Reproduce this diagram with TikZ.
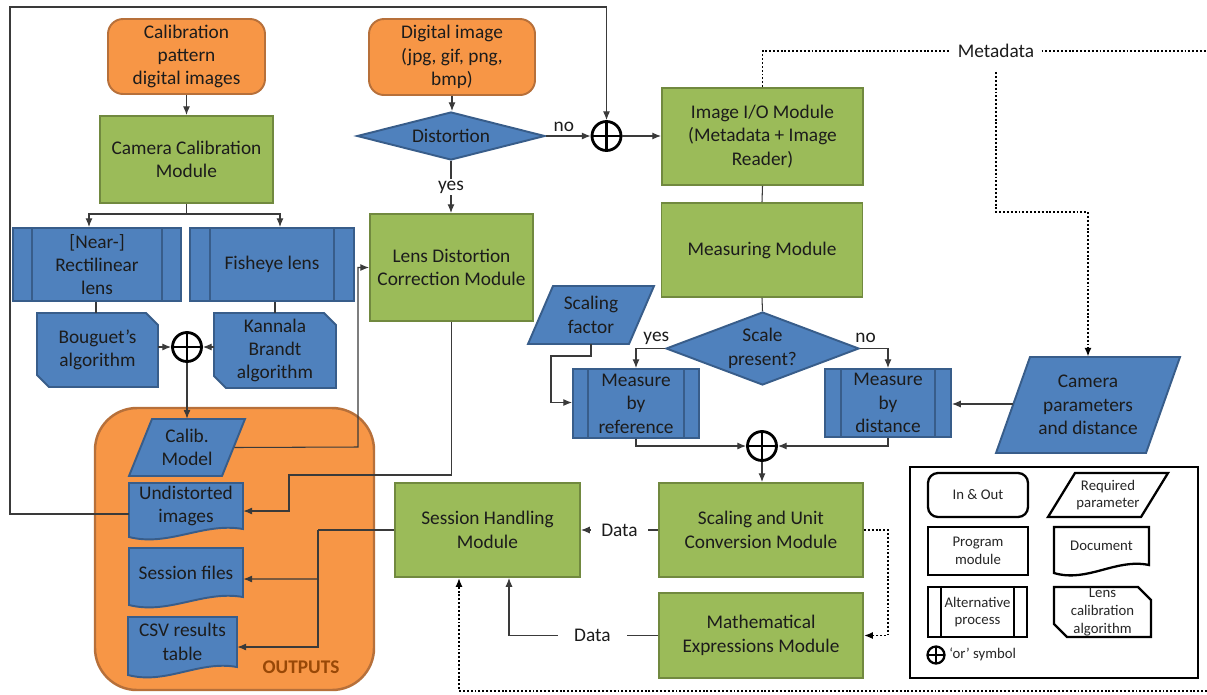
\documentclass[tikz,border=0pt]{standalone}
\usepackage{fontspec}
\setmainfont{Carlito}
\usetikzlibrary{shapes.geometric,arrows.meta,calc}
\definecolor{orf}{HTML}{F79646}
\definecolor{ord}{HTML}{B7703A}
\definecolor{grf}{HTML}{9BBB59}
\definecolor{grd}{HTML}{71893F}
\definecolor{blf}{HTML}{4F81BD}
\definecolor{bld}{HTML}{385D8A}
\definecolor{txt}{HTML}{1C1C1C}
\definecolor{outc}{HTML}{984807}
\definecolor{lnc}{HTML}{3A3A3A}
\newcommand\mainfont{\fontsize{11}{13.3}\selectfont}
\newcommand\legfont{\fontsize{8.4}{10}\selectfont}
\tikzset{
  every node/.style={text=txt, font=\mainfont, align=center, inner sep=0pt},
  sz/.style 2 args={minimum width={#1*0.02cm}, minimum height={#2*0.02cm}},
  base/.style={line width=1.1pt},
  inout/.style={base, rectangle, rounded corners=0.3cm, fill=orf, draw=ord},
  module/.style={base, rectangle, fill=grf, draw=grd},
  bshape/.style={base, fill=blf, draw=bld},
  bline/.style={base, draw=bld},
  altbox/.style={bshape, rectangle},
  dia/.style={bshape, diamond},
  orbig/.style={circle, draw=black, fill=white, inner sep=0pt, line width=1.6pt, minimum size={29*0.02cm},
    path picture={\draw[line width=1.6pt] (path picture bounding box.north) -- (path picture bounding box.south)
      (path picture bounding box.west) -- (path picture bounding box.east);}},
  orsmall/.style={circle, draw=black, fill=white, inner sep=0pt, line width=1.3pt, minimum size={17*0.02cm},
    path picture={\draw[line width=1.3pt] (path picture bounding box.north) -- (path picture bounding box.south)
      (path picture bounding box.west) -- (path picture bounding box.east);}},
  ln/.style={draw=lnc, line width=0.6pt},
  arr/.style={ln, -{Latex[length=5pt,width=4pt]}},
  dotl/.style={draw=black, line width=1.1pt, dash pattern=on 1.1pt off 1.1pt},
  dotarr/.style={dotl, -{Latex[length=5pt,width=4pt]}},
  lbl/.style={fill=white, inner xsep=4pt, inner ysep=1pt},
  lg/.style={line width=1.3pt, draw=black, fill=white},
  lgtext/.style={font=\legfont, text=black!85},
}
% parallelogram: style, node opts, name, cx, cy, w, h, slant, text
\newcommand\pgnode[9]{%
  \draw[#1] ({#4-#6/2+#8},{#5-#7/2}) -- ({#4+#6/2},{#5-#7/2}) -- ({#4+#6/2-#8},{#5+#7/2}) -- ({#4-#6/2},{#5+#7/2}) -- cycle;
  \node[#2, minimum width={#6*0.02cm}, minimum height={#7*0.02cm}] (#3) at (#4,#5) {#9};}
% document: style, node opts, name, x1, y1, x2, y2(right bottom), text
\newcommand\docnode[8]{%
  \draw[#1] (#4,#5) -- (#6,#5) -- (#6,#7) .. controls ({#6-(#6-#4)*0.35},{#7-7}) and ({#4+(#6-#4)*0.35},{#7+18}) .. (#4,{#7+8}) -- cycle;
  \node[#2, minimum width={(#6-#4)*0.02cm}, minimum height={(#7-#5)*0.02cm}] (#3) at ({(#4+#6)/2},{(#5+#7)/2}) {#8};}
% lens calibration algorithm: style, node opts, name, x1, y1, x2, y2, cut, text
\newcommand\lcanode[9]{%
  \draw[#1] (#4,#5) -- ({#6-#8},#5) -- (#6,{#5+#8}) -- (#6,#7) -- ({#4+#8},#7) -- (#4,{#7-#8}) -- cycle;
  \node[#2, minimum width={(#6-#4)*0.02cm}, minimum height={(#7-#5)*0.02cm}] (#3) at ({(#4+#6)/2},{(#5+#7)/2}) {#9};}
% inner lines of alternative process
\newcommand\altlines[3]{%
  \draw[#1] ($(#2.north west)+(#3,0)$) -- ($(#2.south west)+(#3,0)$)
            ($(#2.north east)+(-#3,0)$) -- ($(#2.south east)+(-#3,0)$);}
\begin{document}
\begin{tikzpicture}[x=0.02cm,y=-0.02cm]
\useasboundingbox (0,0) rectangle (1207,694);
\fill[white] (0,0) rectangle (1207,694);

% OUTPUTS container
\node[sz={279}{282}, rectangle, rounded corners=0.84cm, fill=orf, draw=ord, line width=1.4pt] (outputs) at (234.5,549) {};
\node[font=\fontsize{11}{13}\selectfont\bfseries, text=outc] (outlbl) at (301,667) {OUTPUTS};

% ---- nodes ----
\node[inout, sz={157}{75}] (calpat) at (186.5,56.5) {Calibration\\pattern\\digital images};
\node[inout, sz={166}{76}] (digimg) at (452,57) {Digital image\\(jpg, gif, png,\\bmp)};
\node[dia, sz={188}{48}, aspect=3.9] (dist) at (451,136) {Distortion};
\node[orbig] (or1) at (606.5,136) {};
\node[module, sz={201}{97}] (imgio) at (762.5,136.5) {Image I/O Module\\(Metadata + Image\\Reader)};
\node[module, sz={173}{87}] (camcal) at (186.5,159.5) {Camera Calibration\\Module};
\node[altbox, sz={168}{73}] (rect) at (97,264.5) {[Near-]\\Rectilinear\\lens};
\altlines{bline}{rect}{20}
\node[altbox, sz={164}{73}] (fish) at (272,264.5) {Fisheye lens};
\altlines{bline}{fish}{21}
\lcanode{bshape}{}{boug}{37}{313}{158}{387}{12}{Bouguet’s\\algorithm}
\lcanode{bshape}{}{kann}{214}{313}{336}{388}{12}{Kannala\\Brandt\\algorithm}
\node[orbig] (or2) at (187,347) {};
\node[module, sz={163}{107}] (lensdc) at (451.5,267.5) {Lens Distortion\\Correction Module};
\node[module, sz={201}{94}] (meas) at (762,250) {Measuring Module};
\pgnode{bshape}{}{sfac}{591}{315}{126}{58}{25}{Scaling\\factor}
\node[dia, sz={193}{73}, aspect=2.64] (scale) at (762.5,348.5) {Scale\\present?};
\node[altbox, sz={126}{69}] (mref) at (636,403.5) {Measure\\by\\reference};
\altlines{bline}{mref}{16}
\node[altbox, sz={126}{68}] (mdist) at (888,403) {Measure\\by\\distance};
\altlines{bline}{mdist}{17}
\pgnode{bshape}{}{cam}{1088}{405}{184}{96}{34}{Camera\\parameters\\and distance}
\node[orbig] (or3) at (762,446) {};
\node[module, sz={204}{94}] (scu) at (761,530) {Scaling and Unit\\Conversion Module};
\node[module, sz={185}{94}] (sess) at (487.5,530) {Session Handling\\Module};
\node[module, sz={204}{85}] (math) at (761,635.5) {Mathematical\\Expressions Module};
\pgnode{bshape}{}{calm}{187}{447.5}{116}{57}{23}{Calib.\\Model}
\docnode{bshape}{}{undist}{129}{483}{243}{529}{Undistorted\\images}
\docnode{bshape}{}{sessf}{129}{548}{243}{597}{Session files}
\docnode{bshape}{}{csv}{128}{617}{237}{667}{CSV results\\table}
\node (meta) at (996,51) {Metadata};

% ---- connectors ----
\draw[arr] (calpat) -- (camcal);
\coordinate (cc) at (186.5,214);
\draw[ln] (camcal.south) -- (cc);
\draw[arr] (cc) -| ($(rect.north)+(-8,0)$);
\draw[arr] (cc) -| ($(fish.north)+(8,0)$);
\draw[ln] ($(rect.south)+(-1,0)$) -- ($(boug.north)+(-1.5,0)$);
\draw[ln] (kann.north) -- (kann.north |- fish.south);
\draw[arr] (boug.east |- or2) -- (or2.west);
\draw[arr] (kann.west |- or2) -- (or2.east);
\draw[arr] (or2.south) -- (calm.north);
\coordinate (b1) at (358,447);
\draw[arr] ($(calm.east)+(-11,0)$) -- (b1) |- (lensdc.west);
\coordinate (b2) at (289,475);
\draw[arr] (lensdc.south) |- (b2) |- ($(undist.east)+(0,5)$);
\coordinate (b3) at (10,7);
\draw[arr] ($(undist.west)+(0,8)$) -| (b3) -| (or1.north);
\draw[arr] (digimg.south) -- (digimg.south |- dist.north);
\draw[arr] (dist.east) -- node[pos=0.4, above=2pt]{no} (or1.west);
\draw[arr] (dist.south) -- node[lbl]{yes} (lensdc.north -| dist.south);
\draw[arr] (or1.east) -- (imgio.west |- or1.east);
\draw[ln] (imgio.south) -- (meas.north);
\draw[ln] (meas.south) -- (scale.north);
\draw[arr] (scale.west) -| node[pos=0.15, above=2pt]{yes} (mref.north);
\draw[arr] (scale.east) -| node[pos=0.1, above=3pt]{no} (mdist.north);
\coordinate (b4) at (551,356);
\draw[arr] (sfac.south) |- (b4) |- ($(mref.west)+(0,-1)$);
\draw[arr] ($(cam.west)+(17,-1)$) -- ($(mdist.east)+(0,1)$);
\draw[arr] (mref.south) |- (or3.west);
\draw[arr] (mdist.south) |- (or3.east);
\draw[arr] (or3.south) -- (scu.north -| or3.south);
\draw[arr] (scu.west) -- node[lbl, inner xsep=6pt]{Data} (sess.east);
\draw[dotarr] (scu.east) -- ++(24,0) |- (math.east);
\coordinate (c2) at ($(sess.south)+(21.5,0)$);
\draw[arr] (math.west) -| node[pos=0.22, lbl, inner xsep=9pt]{Data} (c2);
\coordinate (sj) at (318,530);
\draw[ln] (sess.west) -- (sj);
\draw[arr] (sj) |- ($(csv.east)+(0,5)$);
\draw[arr] (sj |- 0,579) -- ($(sessf.east)+(0,6.5)$);
\coordinate (d1) at (1207,691);
\draw[dotarr] (d1) -| ($(sess.south)+(-28.5,0)$);
\coordinate (d2) at (1207,51);
\draw[dotl] (imgio.north) |- ([xshift=-5pt]meta.west);
\draw[dotl] ([xshift=4pt]meta.east) -- (d2);
\coordinate (m1) at (996,212);
\draw[dotarr] ([yshift=-8pt]meta.south) -- (m1) -| (cam.north);

% ---- legend ----
\draw[line width=1.5pt, draw=black] (910,467) rectangle (1198,678);
\node[lg, lgtext, rectangle, rounded corners=0.2cm, sz={100}{44}] (lin) at (978,495) {In \& Out};
\pgnode{lg}{lgtext}{lreq}{1108}{495}{120}{44}{27}{Required\\parameter}
\node[lg, lgtext, rectangle, sz={100}{48}] (lprog) at (978,551) {Program\\module};
\docnode{lg}{lgtext}{ldoc}{1054}{527}{1149}{565}{Document}
\node[lg, lgtext, rectangle, sz={99}{50}] (lalt) at (977.5,612) {Alternative\\process};
\altlines{lg}{lalt}{14}
\lcanode{lg}{lgtext}{llca}{1054}{587}{1151}{637}{13}{Lens\\calibration\\algorithm}
\node[orsmall] (lor) at (936,655) {};
\node[lgtext, anchor=west] (lorl) at (949,654) {‘or’ symbol};
\end{tikzpicture}
\end{document}
